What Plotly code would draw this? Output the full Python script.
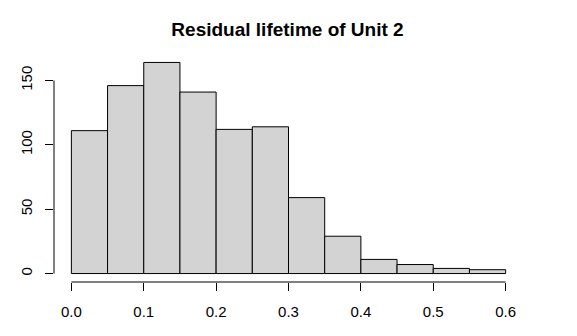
import plotly.graph_objects as go

# histogram of residual lifetime, bins of width 0.05
bin_starts = [0.0, 0.05, 0.1, 0.15, 0.2, 0.25, 0.3, 0.35, 0.4, 0.45, 0.5, 0.55]
counts = [111, 146, 164, 141, 112, 114, 59, 29, 11, 7, 4, 3]
bin_width = 0.05
x_ticks = [0.0, 0.1, 0.2, 0.3, 0.4, 0.5, 0.6]
y_ticks = [0, 50, 100, 150]

font = "Liberation Sans, Arial, sans-serif"

centers = [b + bin_width / 2 for b in bin_starts]

trace = go.Bar(
    x=centers,
    y=counts,
    width=bin_width,
    marker=dict(color="#d3d3d3", line=dict(color="black", width=1)),
    hoverinfo="skip",
)

# the page body has an 8px margin, so the figure is drawn 8px smaller
W, H = 569, 328
ymax = max(counts)
layout = go.Layout(
    width=W,
    height=H,
    margin=dict(l=46, r=54, t=46, b=54, autoexpand=False),
    paper_bgcolor="white",
    plot_bgcolor="white",
    showlegend=False,
    title=dict(
        text="<b>Residual lifetime of Unit 2</b>",
        x=(287.5 - 8) / W, xanchor="center", y=1 - 21 / H, yanchor="middle",
        font=dict(family=font, size=19, color="black"),
    ),
    xaxis=dict(
        range=[-0.024, 0.624],
        tickvals=x_ticks,
        ticktext=["%.1f" % v for v in x_ticks],
        ticks="outside", ticklen=8, tickcolor="black", tickwidth=1,
        ticklabelstandoff=8,
        automargin=False,
        showgrid=False, zeroline=False, showline=False,
        tickfont=dict(family=font, size=15, color="black"),
    ),
    yaxis=dict(
        range=[-0.04 * ymax, 1.04 * ymax],
        tickvals=y_ticks,
        ticks="outside", ticklen=8, tickcolor="black", tickwidth=1,
        tickangle=-90,
        ticklabelstandoff=7,
        automargin=False,
        showgrid=False, zeroline=False, showline=False,
        tickfont=dict(family=font, size=15, color="black"),
    ),
    shapes=[
        dict(type="line", xref="x", yref="paper",
             x0=x_ticks[0], x1=x_ticks[-1], y0=0, y1=0,
             line=dict(color="black", width=1)),
        dict(type="line", xref="paper", yref="y",
             x0=0, x1=0, y0=y_ticks[0], y1=y_ticks[-1],
             line=dict(color="black", width=1)),
    ],
)

fig = go.Figure(data=[trace], layout=layout)
fig.write_html("out.html")
